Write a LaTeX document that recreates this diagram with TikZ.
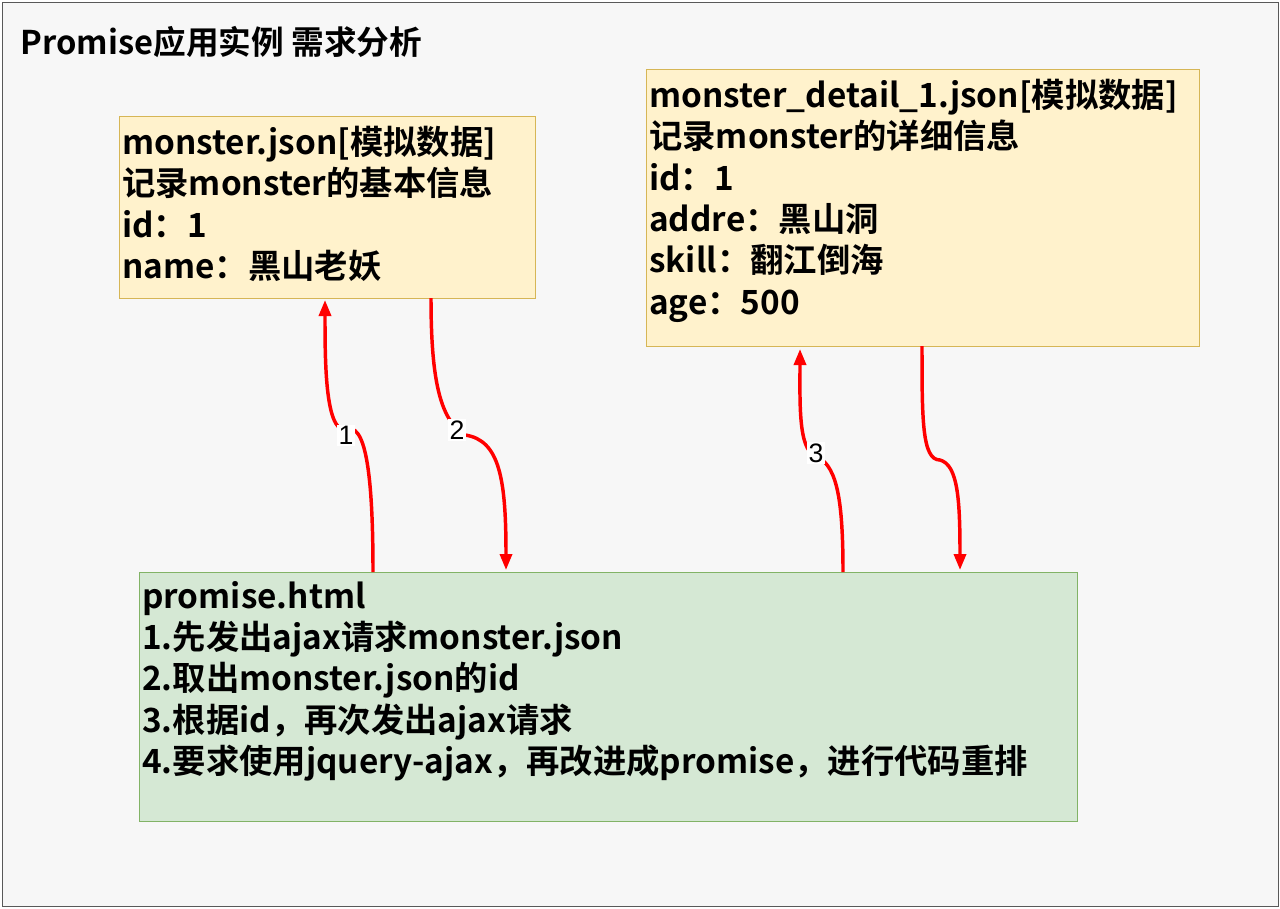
\documentclass[tikz,border=0pt]{standalone}
\usepackage{fontspec}
\setmainfont{Noto Sans CJK SC}[BoldFont={* Bold}]
\newfontfamily\labelfont{Liberation Sans}
\usetikzlibrary{arrows.meta,positioning,calc}
\definecolor{notefill}{HTML}{FFF2CC}
\definecolor{notedraw}{HTML}{D6B656}
\definecolor{pagefill}{HTML}{F7F7F7}
\definecolor{greenfill}{HTML}{D5E8D4}
\definecolor{greendraw}{HTML}{82B366}
\tikzset{
  notebox/.style={draw=notedraw, fill=notefill, line width=1pt, inner sep=0},
  htmlbox/.style={draw=greendraw, fill=greenfill, line width=1pt, inner sep=0},
  boxtext/.style={anchor=north west, align=left, inner sep=0,
    font=\fontsize{25}{31}\selectfont\bfseries},
  flow/.style={-{Triangle[length=12pt,width=9pt]}, red, line width=2.6pt},
  steplabel/.style={fill=white, inner sep=1pt, font=\labelfont\fontsize{20}{20}\selectfont},
}
\begin{document}
\begin{tikzpicture}[x=0.75pt,y=-0.75pt]
  \useasboundingbox (0,0) rectangle (1280,908);
  \draw [gray!70!black, fill=pagefill] (2,2) rectangle (1278,906);

  \node [anchor=west, font=\fontsize{24.5}{25}\selectfont\bfseries] (title) at (16,42)
        {Promise应用实例 需求分析};

  % data files
  \node [notebox, minimum width=416*0.75pt, minimum height=182*0.75pt,
         anchor=north west] (json) at (119,116) {};
  \node [boxtext] (jsontext) at (122,126)
        {monster.json[模拟数据]\\记录monster的基本信息\\id：1\\name：黑山老妖};

  \node [notebox, minimum width=553*0.75pt, minimum height=277*0.75pt,
         anchor=north west] (detail) at (646,69) {};
  \node [boxtext] (detailtext) at (649,79)
        {monster\_detail\_1.json[模拟数据]\\记录monster的详细信息\\id：1\\addre：黑山洞\\skill：翻江倒海\\age：500};

  % page
  \node [htmlbox, minimum width=938*0.75pt, minimum height=249*0.75pt,
         anchor=north west] (html) at (139,572) {};
  \node [boxtext] (htmltext) at (142,581)
        {promise.html\\1.先发出ajax请求monster.json\\2.取出monster.json的id\\3.根据id，再次发出ajax请求\\4.要求使用jquery-ajax，再改进成promise，进行代码重排};

  % requests
  \coordinate (a1) at (373,572); \coordinate (b1) at (325,300);
  \coordinate (a2) at (431,298); \coordinate (b2) at (506,570);
  \coordinate (a3) at (843,572); \coordinate (b3) at (800,349);
  \coordinate (a4) at (922,346); \coordinate (b4) at (960,570);

  \draw [flow] (a1) .. controls (373,470) and (365,420) .. (345,430)
        .. controls (325,430) and (325,360) .. (b1);
  \draw [flow] (a2) .. controls (431,380) and (440,420) .. (465,435)
        .. controls (500,440) and (506,480) .. (b2);
  \draw [flow] (a3) .. controls (843,490) and (835,465) .. (815,455)
        .. controls (798,450) and (800,400) .. (b3);
  \draw [flow] (a4) .. controls (922,420) and (922,460) .. (940,460)
        .. controls (958,465) and (960,500) .. (b4);

  \node [steplabel] (s1) at (346,435) {1};
  \node [steplabel] (s2) at (457,430) {2};
  \node [steplabel] (s3) at (816,453) {3};
\end{tikzpicture}
\end{document}
